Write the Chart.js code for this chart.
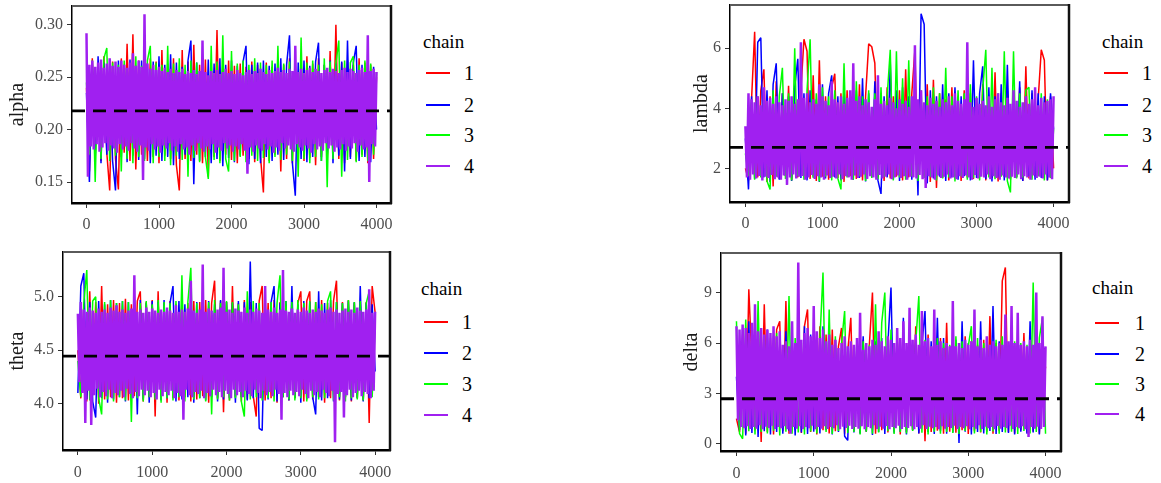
<!DOCTYPE html>
<html>
<head>
<meta charset="utf-8">
<script src="https://cdn.jsdelivr.net/npm/chart.js@4.4.1/dist/chart.umd.min.js"></script>
<style>
  html, body { margin: 0; padding: 0; background: #fff; }
  body { position: relative; width: 1161px; height: 483px; overflow: hidden; font-family: "Liberation Serif", "Times New Roman", serif; }
  canvas { position: absolute; }
  .ttl { position: absolute; font-size: 19px; line-height: 20px; color: #000; white-space: nowrap; }
  .key { position: absolute; width: 24px; height: 2px; }
  .lab { position: absolute; font-size: 20px; line-height: 20px; color: #000; }
</style>
</head>
<body>
<canvas id="pAlpha"></canvas>
<canvas id="pLambda"></canvas>
<canvas id="pTheta"></canvas>
<canvas id="pDelta"></canvas>
<div id="legends"></div>
<script>
// Thinned draws: chains 1-3 keep one value every 40 iterations,
// chain 4 (drawn on top) keeps one every 20 iterations.
const chainSteps = [40, 40, 40, 20];
const chainNames = ['1', '2', '3', '4'];
const chainColors = ['#ff0000', '#0000ff', '#00ff00', '#a020f0'];
const xTicks = [0, 1000, 2000, 3000, 4000];

// ---- alpha ----
const alphaTicks = [0.15, 0.20, 0.25, 0.30];
const alphaRef = 0.218;
const alphaChain1 = [
  0.240,0.160,0.268,0.175,0.262,0.170,0.270,0.178,0.142,0.265,
  0.172,0.143,0.268,0.178,0.282,0.170,0.291,0.162,0.266,0.176,
  0.262,0.170,0.268,0.174,0.265,0.168,0.276,0.175,0.263,0.172,
  0.268,0.166,0.142,0.276,0.172,0.265,0.170,0.281,0.176,0.262,
  0.168,0.267,0.155,0.264,0.174,0.295,0.170,0.262,0.176,0.266,
  0.171,0.261,0.168,0.263,0.175,0.260,0.172,0.265,0.169,0.262,
  0.174,0.140,0.264,0.170,0.260,0.176,0.266,0.160,0.262,0.172,
  0.268,0.168,0.261,0.175,0.265,0.170,0.270,0.173,0.263,0.166,
  0.268,0.174,0.262,0.170,0.275,0.176,0.300,0.172,0.264,0.168,
  0.266,0.174,0.262,0.170,0.268,0.176,0.264,0.168,0.262,0.172,
  0.250];
const alphaChain2 = [
  0.235,0.150,0.262,0.172,0.270,0.168,0.264,0.176,0.260,0.170,
  0.142,0.266,0.174,0.262,0.169,0.267,0.175,0.261,0.171,0.266,
  0.172,0.263,0.168,0.265,0.175,0.270,0.170,0.262,0.174,0.272,
  0.166,0.264,0.172,0.260,0.176,0.266,0.285,0.148,0.264,0.170,
  0.262,0.174,0.267,0.168,0.263,0.172,0.268,0.165,0.262,0.173,
  0.266,0.169,0.261,0.175,0.265,0.280,0.167,0.262,0.172,0.264,
  0.168,0.266,0.174,0.261,0.170,0.263,0.176,0.268,0.171,0.262,
  0.290,0.168,0.137,0.264,0.172,0.266,0.169,0.261,0.174,0.265,
  0.283,0.170,0.262,0.173,0.266,0.168,0.263,0.175,0.265,0.160,
  0.285,0.172,0.264,0.280,0.170,0.262,0.174,0.266,0.169,0.260,
  0.200];
const alphaChain3 = [
  0.245,0.176,0.266,0.150,0.262,0.172,0.268,0.278,0.170,0.264,
  0.175,0.262,0.160,0.266,0.172,0.263,0.168,0.270,0.174,0.261,
  0.170,0.266,0.280,0.168,0.264,0.174,0.262,0.170,0.280,0.166,
  0.263,0.175,0.268,0.171,0.262,0.155,0.266,0.173,0.264,0.169,
  0.261,0.174,0.153,0.280,0.171,0.265,0.168,0.290,0.172,0.160,
  0.275,0.170,0.263,0.174,0.266,0.169,0.262,0.175,0.268,0.170,
  0.264,0.173,0.262,0.168,0.266,0.174,0.280,0.171,0.263,0.176,
  0.265,0.170,0.262,0.155,0.288,0.172,0.264,0.168,0.266,0.174,
  0.262,0.170,0.268,0.145,0.265,0.172,0.263,0.285,0.155,0.266,
  0.171,0.264,0.270,0.169,0.262,0.174,0.266,0.170,0.263,0.176,
  0.255];
const alphaChain4 = [
  0.292,0.155,0.262,0.184,0.266,0.181,0.260,0.186,0.264,0.179,
  0.267,0.183,0.259,0.187,0.263,0.180,0.268,0.185,0.261,0.182,
  0.265,0.178,0.260,0.186,0.266,0.181,0.262,0.184,0.259,0.180,
  0.264,0.187,0.273,0.182,0.261,0.179,0.266,0.185,0.260,0.152,
  0.310,0.183,0.263,0.180,0.258,0.186,0.262,0.181,0.257,0.184,
  0.260,0.178,0.256,0.185,0.259,0.182,0.255,0.187,0.258,0.180,
  0.254,0.184,0.257,0.179,0.255,0.186,0.258,0.181,0.253,0.183,
  0.256,0.176,0.254,0.185,0.257,0.180,0.253,0.187,0.256,0.182,
  0.285,0.179,0.255,0.184,0.252,0.181,0.256,0.186,0.254,0.178,
  0.257,0.183,0.253,0.180,0.255,0.187,0.258,0.182,0.254,0.185,
  0.256,0.179,0.253,0.184,0.257,0.181,0.254,0.186,0.252,0.180,
  0.255,0.158,0.257,0.183,0.253,0.179,0.256,0.185,0.254,0.182,
  0.258,0.180,0.255,0.186,0.253,0.181,0.257,0.184,0.254,0.178,
  0.256,0.183,0.259,0.180,0.255,0.187,0.257,0.182,0.254,0.185,
  0.258,0.181,0.256,0.179,0.280,0.186,0.255,0.183,0.258,0.180,
  0.254,0.185,0.257,0.182,0.259,0.178,0.255,0.186,0.258,0.181,
  0.256,0.184,0.254,0.180,0.257,0.187,0.259,0.182,0.255,0.185,
  0.258,0.179,0.256,0.183,0.254,0.181,0.257,0.186,0.259,0.180,
  0.255,0.184,0.258,0.182,0.256,0.187,0.254,0.179,0.257,0.185,
  0.259,0.181,0.255,0.183,0.290,0.150,0.256,0.186,0.258,0.184,
  0.255];

// ---- lambda ----
const lambdaTicks = [2, 4, 6];
const lambdaRef = 2.70;
const lambdaChain1 = [
  2.00,1.60,4.30,6.55,1.70,4.60,5.30,1.55,4.40,1.40,
  4.90,1.65,4.50,1.75,4.75,1.60,4.20,1.70,4.60,6.30,
  5.90,1.65,5.10,1.58,5.60,1.72,4.40,1.62,4.70,5.15,
  1.68,4.50,1.55,4.60,1.74,4.30,1.65,4.80,1.60,4.40,
  6.15,6.05,5.50,1.70,4.50,1.58,4.70,1.66,4.40,1.72,
  4.60,1.60,5.30,1.70,4.50,5.95,1.62,4.40,1.75,4.80,
  1.55,4.95,1.35,4.50,1.68,4.30,1.60,4.70,1.72,4.40,
  1.58,4.60,1.70,4.50,1.65,4.30,1.74,4.80,1.60,4.40,
  1.68,5.20,1.56,4.50,1.72,4.60,1.62,4.40,1.70,4.70,
  1.58,5.40,1.66,4.50,1.74,4.30,5.95,5.60,1.60,4.40,
  2.00];
const lambdaChain2 = [
  3.00,1.30,4.40,1.65,6.20,6.35,1.70,4.60,1.55,4.80,
  5.50,1.62,4.50,1.75,4.40,1.58,4.70,5.65,1.68,4.50,
  1.60,4.60,1.72,4.30,1.55,4.80,1.66,4.50,5.10,1.70,
  4.40,1.60,4.70,1.74,4.50,1.62,4.60,1.68,5.00,1.56,
  4.50,1.72,4.90,1.60,1.15,4.40,1.70,5.55,1.64,4.60,
  1.58,4.70,1.75,4.40,1.62,4.50,1.10,7.15,6.80,1.50,
  4.60,1.66,4.40,1.72,4.80,1.58,4.50,1.70,4.70,1.62,
  4.40,1.74,4.60,1.60,5.60,1.68,4.50,5.40,1.64,4.70,
  1.56,4.40,1.72,4.80,1.60,5.45,1.66,4.50,1.70,4.90,
  1.58,4.40,1.74,4.60,1.62,4.50,1.68,4.40,1.60,4.50,
  3.30];
const lambdaChain3 = [
  2.50,1.75,4.20,1.62,4.40,1.70,4.50,1.58,1.30,4.60,
  1.72,4.40,5.35,1.65,4.50,1.60,6.00,1.74,4.40,1.62,
  4.60,6.30,1.68,4.50,1.56,4.70,1.72,4.40,1.60,4.60,
  1.66,1.30,5.50,1.70,4.50,1.62,4.90,1.74,4.40,1.58,
  4.60,1.68,4.50,1.64,4.70,1.72,4.40,5.95,1.60,5.90,
  1.70,5.00,1.62,5.60,1.74,4.50,1.58,4.60,1.68,4.40,
  1.72,4.70,1.60,4.50,1.66,5.35,1.70,4.40,1.56,4.60,
  1.74,4.50,1.62,4.80,1.68,4.40,1.60,4.60,5.95,1.70,
  5.35,1.64,4.50,1.72,5.90,1.58,1.20,5.90,1.66,4.50,
  1.70,4.60,4.70,1.62,4.40,1.74,4.50,1.60,4.30,1.68,
  3.30];
const lambdaChain4 = [
  3.40,1.70,4.50,1.62,4.30,1.80,4.20,1.66,4.40,1.75,
  4.10,1.60,4.70,1.72,4.25,1.68,4.35,1.78,4.15,1.64,
  4.40,1.70,4.20,1.62,4.10,1.76,4.30,1.45,4.25,1.70,
  4.40,1.80,4.15,1.66,4.30,1.72,6.20,1.75,4.35,1.62,
  4.50,1.70,4.20,1.78,4.30,1.65,4.15,1.74,4.80,1.70,
  4.40,1.62,4.25,1.76,4.10,1.68,4.90,1.72,4.30,1.66,
  4.20,1.80,4.40,1.64,4.15,1.74,4.35,1.70,4.60,1.62,
  5.50,1.76,4.25,1.68,4.40,1.72,4.10,1.80,4.30,1.65,
  4.20,1.74,4.05,1.70,4.30,1.62,5.10,1.78,4.15,1.66,
  4.25,1.72,4.10,1.80,4.35,1.64,4.20,1.70,4.00,1.76,
  4.30,1.68,4.15,1.74,4.25,1.62,4.05,1.72,4.40,1.70,
  6.10,1.66,4.30,1.78,4.60,1.64,4.20,1.35,4.10,1.74,
  4.35,1.70,4.15,1.62,4.25,1.76,4.05,1.68,4.30,1.72,
  4.20,1.80,4.40,1.66,4.10,1.70,4.50,1.64,4.25,1.74,
  4.15,1.68,4.30,1.76,6.20,1.70,4.20,1.62,4.05,1.78,
  4.35,1.66,4.15,1.72,4.25,1.70,4.10,1.80,4.40,1.64,
  4.05,1.74,4.30,1.68,4.50,1.62,4.20,1.76,4.10,1.70,
  4.35,1.66,4.15,1.72,4.60,1.68,4.25,1.80,4.05,1.64,
  4.20,1.74,4.40,1.70,4.15,1.62,4.30,1.76,4.70,1.68,
  4.10,1.72,4.35,1.66,4.20,1.80,4.25,1.70,4.30,1.64,
  4.40];

// ---- theta ----
const thetaTicks = [4.0, 4.5, 5.0];
const thetaRef = 4.444;
const thetaChain1 = [
  4.50,4.05,4.92,4.02,5.05,4.08,4.95,4.00,5.10,4.04,
  4.93,4.06,4.97,4.01,4.94,4.05,4.98,4.03,4.93,4.07,
  4.96,5.05,4.02,4.95,4.06,4.97,3.88,5.05,4.04,4.94,
  4.01,4.96,4.05,4.93,4.03,4.98,4.06,4.94,4.02,4.96,
  4.04,4.95,4.07,4.97,4.01,4.94,5.15,4.05,4.96,3.92,
  4.95,4.03,5.10,4.06,4.94,4.02,4.97,4.04,4.95,4.07,
  3.88,4.96,5.10,4.03,4.94,4.05,4.97,4.01,4.95,4.06,
  4.93,4.03,4.98,4.05,4.94,5.05,4.02,4.96,5.05,4.04,
  4.95,4.06,4.97,4.01,4.94,4.05,4.96,5.15,4.03,4.95,
  4.06,4.97,4.02,4.94,4.05,4.96,4.03,4.95,3.82,5.10,
  4.85];
const thetaChain2 = [
  4.10,5.10,5.22,4.04,4.95,4.02,3.87,4.96,4.05,4.93,
  4.01,4.97,4.04,4.94,4.06,4.96,4.02,4.95,4.05,4.93,
  3.90,4.97,4.04,4.94,4.01,4.96,4.06,4.95,4.03,4.97,
  4.05,4.94,5.10,4.02,4.96,4.04,4.93,4.06,4.97,4.01,
  4.95,4.05,4.94,4.03,4.96,4.06,4.93,4.02,4.97,4.04,
  4.95,4.05,4.94,4.01,4.96,4.06,4.95,4.03,5.33,4.05,
  4.94,3.77,3.75,4.96,4.04,4.95,5.10,4.02,4.94,4.06,
  4.96,4.03,5.10,4.05,4.93,4.01,4.96,4.04,4.95,4.06,
  3.90,5.05,4.03,4.94,4.05,4.97,4.02,4.95,4.04,4.94,
  4.06,4.96,4.03,4.95,4.05,5.10,4.02,4.94,4.05,4.93,
  4.30];
const thetaChain3 = [
  4.40,4.06,4.94,5.25,4.03,4.96,5.00,4.05,3.90,4.95,
  4.04,4.97,4.02,4.94,4.06,4.96,4.03,4.95,3.83,4.97,
  4.05,4.94,4.02,4.96,4.06,4.93,4.04,4.97,4.01,4.95,
  4.05,4.94,4.03,4.96,4.06,5.20,4.02,4.95,5.27,4.04,
  4.94,4.05,4.96,4.02,4.95,3.90,4.97,4.04,4.94,4.06,
  4.96,4.03,4.95,4.05,4.93,4.02,3.88,5.05,4.04,4.96,
  4.06,4.94,4.03,4.97,4.05,4.95,4.02,4.94,5.20,4.06,
  4.96,4.04,4.95,4.03,4.97,4.05,4.94,4.02,4.96,4.06,
  4.95,4.04,4.93,4.05,4.96,5.05,4.03,4.95,4.06,4.94,
  4.02,4.97,4.05,4.95,4.04,4.96,4.03,4.94,5.05,4.06,
  4.75];
const thetaChain4 = [
  4.84,4.20,4.95,4.10,4.88,3.82,4.86,4.12,4.90,3.80,
  4.87,4.08,4.85,4.14,4.89,4.06,4.86,4.11,4.88,4.07,
  4.85,4.13,4.90,4.05,4.87,4.10,4.92,4.08,4.86,4.12,
  4.88,4.06,4.85,4.14,4.87,4.09,4.89,4.05,5.20,4.11,
  4.86,4.07,4.88,4.13,4.85,4.08,4.90,4.12,4.86,4.06,
  4.89,4.10,4.87,4.04,4.85,4.13,4.88,4.07,4.86,4.11,
  4.90,4.08,4.87,4.12,4.85,4.05,4.92,4.10,4.86,4.07,
  4.88,3.85,4.86,4.13,4.89,4.08,5.15,4.06,4.87,4.11,
  4.85,4.09,4.88,4.12,5.30,4.05,4.86,4.10,4.89,4.07,
  4.87,4.13,4.85,4.08,4.88,4.11,4.90,4.06,5.27,4.12,
  4.86,4.09,4.88,4.05,4.85,4.13,4.89,4.08,4.87,4.11,
  4.86,4.06,4.90,4.12,4.85,4.09,4.88,4.07,4.86,4.13,
  4.89,4.10,4.87,4.05,4.85,4.12,5.10,4.08,4.88,4.11,
  4.86,4.07,4.90,4.13,4.85,4.09,4.88,3.85,5.25,4.10,
  4.87,4.06,4.86,4.12,4.89,4.08,4.85,4.11,4.88,4.07,
  4.86,4.13,4.90,4.09,4.87,4.05,4.85,4.12,4.88,4.08,
  4.86,4.11,4.89,4.06,4.87,4.13,4.85,4.10,4.88,4.07,
  4.90,4.12,4.86,3.64,4.88,4.09,4.85,4.11,4.87,3.87,
  4.89,4.08,4.86,4.13,4.88,4.06,4.85,4.10,4.90,4.12,
  4.87,4.07,4.86,4.11,4.88,4.09,5.07,4.05,4.85,4.12,
  4.86];

// ---- delta ----
const deltaTicks = [0, 3, 6, 9];
const deltaRef = 2.68;
const deltaChain1 = [
  1.50,0.70,6.50,0.60,9.20,4.90,0.80,6.00,0.10,8.30,
  0.70,6.30,0.55,6.80,7.30,0.75,8.50,0.60,6.10,0.80,
  6.40,0.65,7.00,8.00,0.70,6.20,0.55,7.00,0.80,6.50,
  0.62,6.80,0.75,5.80,6.90,0.60,5.50,7.50,0.78,5.60,
  0.65,6.20,0.72,5.90,9.00,0.60,6.30,0.80,5.70,0.68,
  6.10,0.75,6.60,0.55,6.00,0.70,5.80,0.80,7.00,0.62,
  6.20,0.15,6.50,0.70,5.90,0.78,6.30,0.60,7.20,0.72,
  6.00,0.66,5.80,0.80,6.40,0.58,6.10,0.75,5.90,0.68,
  6.20,0.72,7.60,0.60,6.00,0.78,9.70,10.50,0.70,6.30,
  0.62,5.90,0.80,6.60,0.66,6.00,0.74,5.80,0.60,6.20,
  4.50];
const deltaChain2 = [
  4.00,0.80,6.90,0.50,7.30,0.65,6.60,0.40,6.20,0.75,
  6.80,0.55,6.40,0.70,5.80,0.60,6.70,0.78,4.80,0.50,
  6.90,0.68,7.00,0.58,6.50,0.72,6.30,0.62,7.00,0.80,
  6.60,0.55,6.20,0.70,5.60,0.45,0.20,6.00,0.68,5.80,
  0.60,6.40,0.74,5.70,0.52,6.10,0.70,6.30,0.58,6.00,
  9.30,0.66,6.20,0.72,7.50,0.55,6.00,0.80,6.40,0.62,
  5.90,7.90,0.70,6.10,0.58,7.50,0.75,6.30,0.60,5.80,
  0.68,6.20,0.05,7.30,0.72,6.00,0.55,6.40,0.70,7.30,
  0.62,5.90,0.76,8.20,0.58,6.10,0.70,5.80,0.64,6.70,
  0.55,6.20,0.72,5.90,0.60,7.30,0.68,6.00,0.56,5.60,
  5.70];
const deltaChain3 = [
  7.30,0.60,0.30,7.40,0.75,6.20,0.55,8.50,0.70,6.40,
  0.62,5.90,0.78,6.60,0.50,5.80,0.72,8.80,0.60,6.30,
  0.68,6.00,0.55,6.50,0.74,5.70,0.62,6.20,10.20,0.70,
  8.00,0.58,6.40,0.76,6.00,7.90,0.64,5.80,0.70,6.30,
  0.55,6.10,0.72,5.90,0.60,8.30,0.68,7.20,9.00,0.75,
  6.80,0.58,6.20,0.70,5.90,0.62,6.40,0.76,6.00,8.80,
  0.66,6.20,0.55,5.80,0.72,6.30,0.60,6.00,0.70,5.90,
  0.64,6.40,0.58,6.10,0.76,5.80,7.00,0.62,6.30,0.70,
  6.00,0.56,5.90,0.74,6.20,0.60,6.40,0.68,5.80,0.72,
  6.10,0.58,6.00,0.76,5.90,0.62,9.60,0.70,6.30,7.50,
  0.60];
const deltaChain4 = [
  7.00,1.40,6.80,1.00,7.10,0.92,6.90,1.05,6.60,0.88,
  7.20,1.00,8.30,0.90,6.70,1.10,6.90,0.86,6.50,1.02,
  6.80,0.94,6.60,1.08,7.00,0.88,6.40,1.00,6.70,0.92,
  5.90,1.05,6.10,0.86,5.80,0.60,7.30,1.00,6.00,0.90,
  10.80,1.05,6.20,0.88,6.60,1.00,6.90,0.92,6.40,1.08,
  8.20,0.86,6.70,1.00,6.30,0.90,6.80,1.05,6.10,0.88,
  6.50,1.00,5.90,0.92,6.20,1.10,5.70,0.86,6.00,1.02,
  6.40,0.94,5.80,1.08,6.10,0.88,5.90,1.00,6.30,0.90,
  7.80,1.05,5.60,0.86,6.00,1.00,5.80,0.92,6.20,1.10,
  5.90,0.88,6.70,1.02,6.10,0.90,5.80,1.06,6.40,0.86,
  6.20,1.00,6.00,0.92,6.90,1.08,6.30,0.88,7.30,1.00,
  6.00,0.94,8.10,1.05,6.20,0.86,6.50,1.00,5.90,0.90,
  7.90,1.10,6.10,0.88,6.30,1.02,5.80,0.92,8.00,1.00,
  5.90,0.86,6.10,1.05,5.70,0.90,6.00,1.00,5.80,0.94,
  8.50,1.08,5.80,0.88,6.00,1.00,5.70,0.92,6.20,1.05,
  5.90,0.86,6.10,1.00,8.00,0.90,5.80,1.10,6.20,0.88,
  5.70,1.02,6.40,0.92,5.90,1.00,6.10,0.86,5.80,1.06,
  6.00,0.90,5.90,1.00,7.70,0.94,6.10,1.08,8.20,0.88,
  6.00,1.00,7.80,0.92,5.90,1.05,6.10,0.86,5.80,0.40,
  6.20,1.00,5.90,0.90,9.00,1.02,6.00,0.88,7.60,1.00,
  5.80];

// ---- panel layout (page pixels) ----
const panels = [
  { id: 'pAlpha', name: 'alpha', left: 0, top: 0, W: 400, H: 235,
    area: { left: 72, top: 6, right: 391, bottom: 203 }, yMin: 0.130, yMax: 0.318,
    ticks: alphaTicks, dec: 2, ref: alphaRef, titleX: 17.5, tickPad: 7,
    chains: [alphaChain1, alphaChain2, alphaChain3, alphaChain4],
    legend: { tx: 423, ty: 42, kx: 426, lx: 464, ys: [73, 104.5, 135, 165.5] } },
  { id: 'pLambda', name: 'lambda', left: 660, top: 0, W: 420, H: 235,
    area: { left: 70, top: 5, right: 409, bottom: 202 }, yMin: 0.88, yMax: 7.44,
    ticks: lambdaTicks, dec: 0, ref: lambdaRef, titleX: 42, tickPad: 7,
    chains: [lambdaChain1, lambdaChain2, lambdaChain3, lambdaChain4],
    legend: { tx: 1102, ty: 42, kx: 1104, lx: 1142, ys: [73, 104.5, 135, 165.5] } },
  { id: 'pTheta', name: 'theta', left: 0, top: 240, W: 400, H: 243,
    area: { left: 63, top: 12, right: 390, bottom: 210 }, yMin: 3.567, yMax: 5.418,
    ticks: thetaTicks, dec: 1, ref: thetaRef, titleX: 17.5, tickPad: 8,
    chains: [thetaChain1, thetaChain2, thetaChain3, thetaChain4],
    legend: { tx: 421, ty: 289, kx: 424, lx: 462, ys: [322, 353, 384, 415] } },
  { id: 'pDelta', name: 'delta', left: 660, top: 240, W: 420, H: 243,
    area: { left: 61, top: 13, right: 401, bottom: 211 }, yMin: -0.43, yMax: 11.36,
    ticks: deltaTicks, dec: 0, ref: deltaRef, titleX: 32, tickPad: 8,
    chains: [deltaChain1, deltaChain2, deltaChain3, deltaChain4],
    legend: { tx: 1092, ty: 288, kx: 1095, lx: 1135, ys: [323, 354, 384, 414] } }
];

const X_MIN = -200, X_MAX = 4200;
const fontFamily = '"Liberation Serif", "Times New Roman", serif';
const tickFont = { family: fontFamily, size: 16 };

const toPoints = (vals, step) => vals.map((v, i) => ({ x: i * step, y: v }));

// frame: grey top edge, heavy right edge, y-axis title
const framePlugin = {
  id: 'frame',
  afterDraw(chart) {
    const a = chart.chartArea, ctx = chart.ctx, p = chart.options.plugins.frame;
    ctx.save();
    ctx.strokeStyle = '#5a5a5a';
    ctx.lineWidth = 2;
    ctx.beginPath(); ctx.moveTo(a.left, a.top); ctx.lineTo(a.right, a.top); ctx.stroke();
    ctx.strokeStyle = '#111';
    ctx.lineWidth = 2.5;
    ctx.beginPath(); ctx.moveTo(a.right, a.top - 1); ctx.lineTo(a.right, a.bottom + 1); ctx.stroke();
    ctx.translate(p.titleX, (a.top + a.bottom) / 2);
    ctx.rotate(-Math.PI / 2);
    ctx.fillStyle = '#1a1a1a';
    ctx.font = '20px ' + fontFamily;
    ctx.textAlign = 'center';
    ctx.textBaseline = 'middle';
    ctx.fillText(p.title, 0, 0);
    ctx.restore();
  }
};

panels.forEach(p => {
  const cv = document.getElementById(p.id);
  cv.width = p.W; cv.height = p.H;
  cv.style.left = p.left + 'px'; cv.style.top = p.top + 'px';
  cv.style.width = p.W + 'px'; cv.style.height = p.H + 'px';

  const datasets = p.chains.map((vals, k) => ({
    label: chainNames[k],
    data: toPoints(vals, chainSteps[k]),
    borderColor: chainColors[k],
    borderWidth: k === 3 ? 2.5 : 1.5,
    borderJoinStyle: 'bevel',
    pointRadius: 0,
    tension: 0,
    order: 5 - k
  }));
  datasets.push({
    label: 'ref',
    data: [{ x: X_MIN, y: p.ref }, { x: X_MAX, y: p.ref }],
    borderColor: '#000',
    borderWidth: 2.8,
    borderDash: [13, 8],
    pointRadius: 0,
    order: 0
  });

  new Chart(cv, {
    type: 'line',
    data: { datasets },
    options: {
      responsive: false,
      animation: false,
      events: [],
      layout: { padding: { top: p.area.top, right: p.W - p.area.right, left: 0, bottom: 0 } },
      plugins: {
        legend: { display: false },
        tooltip: { enabled: false },
        frame: { title: p.name, titleX: p.titleX }
      },
      scales: {
        x: {
          type: 'linear', min: X_MIN, max: X_MAX,
          afterBuildTicks: s => { s.ticks = xTicks.map(v => ({ value: v })); },
          afterFit: s => {
            s.height = p.H - p.area.bottom;
            s.paddingLeft = 0; s.paddingRight = 0; s.paddingTop = 0; s.paddingBottom = 0;
          },
          ticks: { color: '#4d4d4d', font: tickFont, padding: p.tickPad, maxRotation: 0, autoSkip: false,
                   callback: v => String(v) },
          grid: { drawOnChartArea: false, drawTicks: true, tickLength: 5, color: '#333', lineWidth: 1 },
          border: { display: true, color: '#000', width: 2.5, z: 1 }
        },
        y: {
          type: 'linear', min: p.yMin, max: p.yMax,
          afterBuildTicks: s => { s.ticks = p.ticks.map(v => ({ value: v })); },
          afterFit: s => {
            s.width = p.area.left;
            s.paddingLeft = 0; s.paddingRight = 0; s.paddingTop = 0; s.paddingBottom = 0;
          },
          ticks: { color: '#4d4d4d', font: tickFont, padding: 4, autoSkip: false,
                   callback: v => Number(v).toFixed(p.dec) },
          grid: { drawOnChartArea: false, drawTicks: true, tickLength: 5, color: '#333', lineWidth: 1 },
          border: { display: true, color: '#000', width: 1.5, z: 1 }
        }
      }
    },
    plugins: [framePlugin]
  });

  // legend block for this panel
  const host = document.getElementById('legends');
  const L = p.legend;
  const t = document.createElement('div');
  t.className = 'ttl'; t.textContent = 'chain';
  t.style.left = L.tx + 'px'; t.style.top = (L.ty - 10) + 'px';
  host.appendChild(t);
  chainNames.forEach((nm, k) => {
    const key = document.createElement('div');
    key.className = 'key';
    key.style.left = L.kx + 'px'; key.style.top = (L.ys[k] - 1) + 'px';
    key.style.background = chainColors[k];
    host.appendChild(key);
    const lab = document.createElement('div');
    lab.className = 'lab'; lab.textContent = nm;
    lab.style.left = L.lx + 'px'; lab.style.top = (L.ys[k] - 10) + 'px';
    host.appendChild(lab);
  });
});
</script>
</body>
</html>
